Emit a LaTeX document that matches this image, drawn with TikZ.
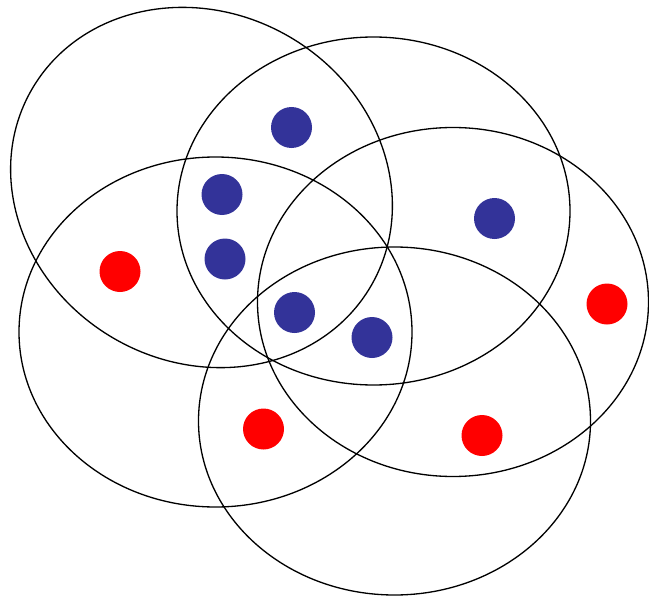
\documentclass[tikz,border=0pt]{standalone}
\usetikzlibrary{calc}
\definecolor{navy}{HTML}{333399}
\tikzset{
    blob/.style={line width=0.75pt},
    bluept/.style={fill=navy},
    redpt/.style={fill=red}
}

\begin{document}
\begin{tikzpicture}[x=0.2mm, y=-0.2mm]
    \useasboundingbox (0, 0) rectangle (649, 597);

    \begin{scope}
        \coordinate (C1) at (201.5, 187.5);
        \coordinate (C2) at (373.5, 211);
        \coordinate (C3) at (215.5, 332);
        \coordinate (C4) at (453, 302);
        \coordinate (C5) at (394.5, 421);

        \draw[blob, rotate around={-30:(C1)}] (C1) ellipse (196 and 174.5);
        \draw[blob] (C2) ellipse (196.5 and 174);
        \draw[blob] (C3) ellipse (196.5 and 175);
        \draw[blob] (C4) ellipse (195.5 and 174.5);
        \draw[blob] (C5) ellipse (196 and 174);
    \end{scope}

    \begin{scope}
        \coordinate (B1) at (291.5, 127.5);
        \coordinate (B2) at (222, 194.5);
        \coordinate (B3) at (225, 259);
        \coordinate (B4) at (494.5, 218.5);
        \coordinate (B5) at (294.5, 312.5);
        \coordinate (B6) at (372, 337.5);

        \fill[bluept] (B1) circle (20.5);
        \fill[bluept] (B2) circle (20.5);
        \fill[bluept] (B3) circle (20.5);
        \fill[bluept] (B4) circle (20.5);
        \fill[bluept] (B5) circle (20.5);
        \fill[bluept] (B6) circle (20.5);

        \coordinate (R1) at (120, 271.5);
        \coordinate (R2) at (607, 304);
        \coordinate (R3) at (263.5, 429);
        \coordinate (R4) at (482, 435.5);

        \fill[redpt] (R1) circle (20.5);
        \fill[redpt] (R2) circle (20.5);
        \fill[redpt] (R3) circle (20.5);
        \fill[redpt] (R4) circle (20.5);
    \end{scope}
\end{tikzpicture}
\end{document}
